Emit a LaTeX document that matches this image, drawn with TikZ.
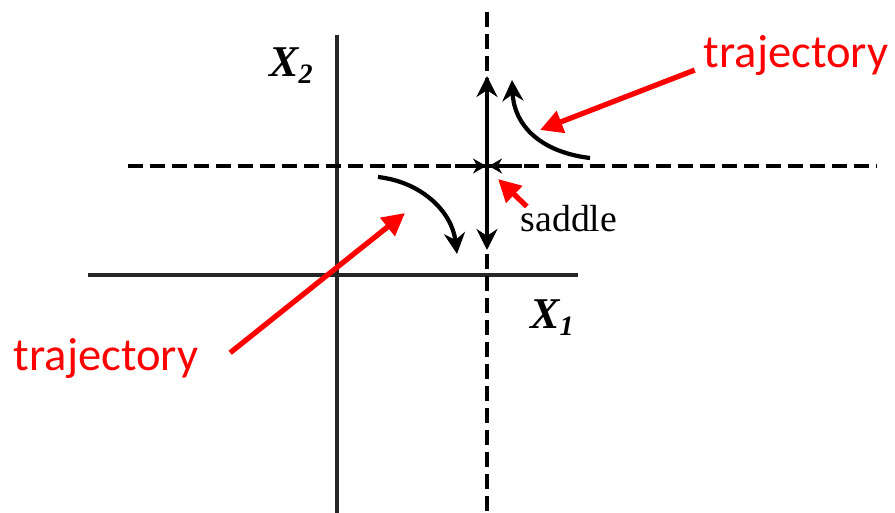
\documentclass[tikz,border=0pt]{standalone}
\usepackage{fontspec}
\setmainfont{Liberation Serif}
\newfontfamily\calibfont{Carlito}
\usetikzlibrary{arrows.meta}

\begin{document}
\begin{tikzpicture}[x=0.02cm, y=-0.02cm,
	axis/.style={line width=2.2pt, black!85},
	guide/.style={line width=2.6pt, dash pattern=on 0.3cm off 0.14cm},
	flow/.style={line width=2.4pt, -{Stealth[length=0.42cm, width=0.42cm]}},
	inflow/.style={line width=2.4pt, -{Stealth[length=0.26cm, width=0.3cm]}},
	pointer/.style={red, line width=3pt, -{Triangle[length=0.45cm, width=0.45cm]}},
	callout/.style={red, inner sep=2pt, font=\calibfont\fontsize{26.5}{30}\selectfont},
	axlabel/.style={inner sep=0pt, font=\fontsize{25}{28}\selectfont\bfseries\itshape},
	]
	\useasboundingbox (0,0) rectangle (895,513);
	% axes
	\draw[axis] (337,35) -- (337,513);
	\draw[axis] (88,275) -- (578,275);
	\node[axlabel](x2) at (291,66){X\raisebox{-0.35ex}{\fontsize{16}{18}\selectfont 2}};
	\node[axlabel](x1) at (552,318){X\raisebox{-0.35ex}{\fontsize{16}{18}\selectfont 1}};
	% separatrices through the saddle
	\coordinate (s) at (487,166);
	\draw[guide] (487,12) -- (487,513);
	\draw[guide] (128,166) -- (877,166);
	\draw[flow] (s) -- (487,76);
	\draw[flow] (s) -- (487,250);
	\draw[inflow] (455,166) -- (486,166);
	\draw[inflow] (522,166) -- (489,166);
	% trajectories
	\coordinate (t1) at (590,158);
	\coordinate (t2) at (378,177);
	\draw[flow] (t1) .. controls (540,152) and (514,125) .. (512,80);
	\draw[flow] (t2) .. controls (422,182) and (452,212) .. (457,254);
	% labels
	\node[font=\fontsize{21.5}{24}\selectfont](saddle) at (569,219){saddle};
	\node[callout](traj1) at (796,55){trajectory};
	\node[callout](traj2) at (106,358){trajectory};
	\draw[pointer] ([xshift=-3pt,yshift=5pt]traj1.south west) -- (540,130);
	\draw[pointer] ([xshift=16pt,yshift=3pt]traj2.east) -- (405,213);
	\draw[pointer] ([xshift=7pt,yshift=-4pt]saddle.north west) -- (498,179);
\end{tikzpicture}
\end{document}
